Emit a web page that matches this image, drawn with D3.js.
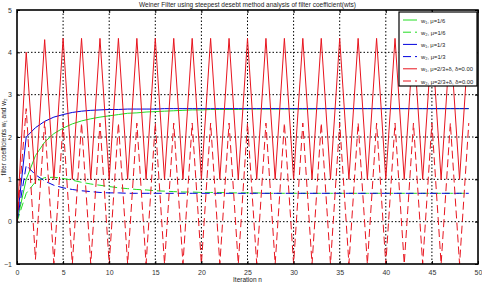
<!DOCTYPE html>
<html>
<head>
<meta charset="utf-8">
<script src="https://cdn.jsdelivr.net/npm/d3@7"></script>
<style>
    html, body { margin: 0; padding: 0; background: #fff; overflow: hidden; }
    svg { display: block; }
    svg text { font-family: "Liberation Sans", "DejaVu Sans", Arial, sans-serif; fill: #222; }
</style>
</head>
<body>
<div id="chart"></div>
<script>
// iteration index n
const iterations = d3.range(0, 50);

// mu = 1/6
const w1Mu16 = [
    0, 1.00, 1.56, 1.88, 2.08, 2.21, 2.31, 2.38, 2.43, 2.47,
    2.50, 2.53, 2.56, 2.57, 2.59, 2.60, 2.61, 2.62, 2.63, 2.64,
    2.64, 2.65, 2.65, 2.65, 2.65, 2.66, 2.66, 2.66, 2.66, 2.66,
    2.66, 2.66, 2.66, 2.67, 2.67, 2.67, 2.67, 2.67, 2.67, 2.67,
    2.67, 2.67, 2.67, 2.67, 2.67, 2.67, 2.67, 2.67, 2.67, 2.67
];
const w2Mu16 = [
    0, 0.67, 0.94, 1.04, 1.05, 1.02, 0.98, 0.93, 0.89, 0.86,
    0.83, 0.80, 0.78, 0.76, 0.75, 0.73, 0.72, 0.71, 0.70, 0.70,
    0.69, 0.69, 0.69, 0.68, 0.68, 0.68, 0.68, 0.67, 0.67, 0.67,
    0.67, 0.67, 0.67, 0.67, 0.67, 0.67, 0.67, 0.67, 0.67, 0.67,
    0.67, 0.67, 0.67, 0.67, 0.67, 0.67, 0.67, 0.67, 0.67, 0.67
];

// mu = 1/3
const w1Mu13 = [
    0, 2.00, 2.22, 2.37, 2.47, 2.53, 2.58, 2.61, 2.63, 2.64,
    2.65, 2.65, 2.66, 2.66, 2.66, 2.66, 2.67, 2.67, 2.67, 2.67,
    2.67, 2.67, 2.67, 2.67, 2.67, 2.67, 2.67, 2.67, 2.67, 2.67,
    2.67, 2.67, 2.67, 2.67, 2.67, 2.67, 2.67, 2.67, 2.67, 2.67,
    2.67, 2.67, 2.67, 2.67, 2.67, 2.67, 2.67, 2.67, 2.67, 2.67
];
const w2Mu13 = [
    0, 1.33, 1.11, 0.96, 0.86, 0.80, 0.76, 0.73, 0.71, 0.69,
    0.68, 0.68, 0.67, 0.67, 0.67, 0.67, 0.67, 0.67, 0.67, 0.67,
    0.67, 0.67, 0.67, 0.67, 0.67, 0.67, 0.67, 0.67, 0.67, 0.67,
    0.67, 0.67, 0.67, 0.67, 0.67, 0.67, 0.67, 0.67, 0.67, 0.67,
    0.67, 0.67, 0.67, 0.67, 0.67, 0.67, 0.67, 0.67, 0.67, 0.67
];

// mu = 2/3 + delta, delta = 0.00
const w1Mu23 = [
    0, 4.00, 0.89, 4.30, 0.99, 4.33, 1.00, 4.33, 1.00, 4.33,
    1.00, 4.33, 1.00, 4.33, 1.00, 4.33, 1.00, 4.33, 1.00, 4.33,
    1.00, 4.33, 1.00, 4.33, 1.00, 4.33, 1.00, 4.33, 1.00, 4.33,
    1.00, 4.33, 1.00, 4.33, 1.00, 4.33, 1.00, 4.33, 1.00, 4.33,
    1.00, 4.33, 1.00, 4.33, 1.00, 4.33, 1.00, 4.33, 1.00, 4.33
];
const w2Mu23 = [
    0, 2.67, -0.89, 2.37, -0.99, 2.34, -1.00, 2.33, -1.00, 2.33,
    -1.00, 2.33, -1.00, 2.33, -1.00, 2.33, -1.00, 2.33, -1.00, 2.33,
    -1.00, 2.33, -1.00, 2.33, -1.00, 2.33, -1.00, 2.33, -1.00, 2.33,
    -1.00, 2.33, -1.00, 2.33, -1.00, 2.33, -1.00, 2.33, -1.00, 2.33,
    -1.00, 2.33, -1.00, 2.33, -1.00, 2.33, -1.00, 2.33, -1.00, 2.33
];

const xTicks = [0, 5, 10, 15, 20, 25, 30, 35, 40, 45, 50];
const yTicks = [-1, 0, 1, 2, 3, 4, 5];

const seriesList = [
    { label: "w₁, μ=1/6", values: w1Mu16, color: "#22dd22", dashed: false },
    { label: "w₂, μ=1/6", values: w2Mu16, color: "#22dd22", dashed: true },
    { label: "w₁, μ=1/3", values: w1Mu13, color: "#0000dd", dashed: false },
    { label: "w₂, μ=1/3", values: w2Mu13, color: "#0000dd", dashed: true },
    { label: "w₁, μ=2/3+δ, δ=0.00", values: w1Mu23, color: "#e8141e", dashed: false },
    { label: "w₂, μ=2/3+δ, δ=0.00", values: w2Mu23, color: "#e8141e", dashed: true },
];

const config = {
    width: 482,
    height: 292,
    margin: { top: 10, right: 4, bottom: 28, left: 17 },
};

const innerWidth = config.width - config.margin.left - config.margin.right;
const innerHeight = config.height - config.margin.top - config.margin.bottom;

const svg = d3.select("#chart")
    .append("svg")
    .attr("width", config.width)
    .attr("height", config.height);

const chart = svg.append("g")
    .attr("transform", `translate(${config.margin.left},${config.margin.top})`);

const xScale = d3.scaleLinear().domain([0, 50]).range([0, innerWidth]);
const yScale = d3.scaleLinear().domain([-1, 5]).range([innerHeight, 0]);

svg.append("defs").append("clipPath").attr("id", "plot-clip")
    .append("rect").attr("width", innerWidth).attr("height", innerHeight);

// dotted grid
chart.append("g").attr("class", "grid")
    .selectAll("line")
    .data(xTicks.slice(1, -1))
    .join("line")
    .attr("x1", (d) => xScale(d)).attr("x2", (d) => xScale(d))
    .attr("y1", 0).attr("y2", innerHeight)
    .attr("stroke", "#000").attr("stroke-width", 1).attr("stroke-dasharray", "1.5,2");

chart.append("g").attr("class", "grid")
    .selectAll("line")
    .data(yTicks.slice(1, -1))
    .join("line")
    .attr("x1", 0).attr("x2", innerWidth)
    .attr("y1", (d) => yScale(d)).attr("y2", (d) => yScale(d))
    .attr("stroke", "#000").attr("stroke-width", 1).attr("stroke-dasharray", "1.5,2");

// lines
const line = d3.line()
    .x((d, i) => xScale(iterations[i]))
    .y((d) => yScale(d));

chart.append("g")
    .attr("clip-path", "url(#plot-clip)")
    .selectAll("path")
    .data(seriesList)
    .join("path")
    .attr("d", (s) => line(s.values))
    .attr("fill", "none")
    .attr("stroke", (s) => s.color)
    .attr("stroke-width", 1)
    .attr("stroke-dasharray", (s) => (s.dashed ? "8,4" : null));

// axes (ticks inward, mirrored on top/right)
chart.append("g")
    .attr("transform", `translate(0,${innerHeight})`)
    .call(d3.axisBottom(xScale).tickValues(xTicks).tickSize(-3).tickPadding(6).tickFormat(d3.format("d")));
chart.append("g")
    .call(d3.axisLeft(yScale).tickValues(yTicks).tickSize(-3).tickPadding(5).tickFormat(d3.format("d")));
chart.append("g")
    .call(d3.axisTop(xScale).tickValues(xTicks).tickSize(-3))
    .selectAll("text").remove();
chart.append("g")
    .attr("transform", `translate(${innerWidth},0)`)
    .call(d3.axisRight(yScale).tickValues(yTicks).tickSize(-3))
    .selectAll("text").remove();

chart.selectAll(".domain").remove();
chart.selectAll(".tick line").attr("stroke", "#000");
chart.selectAll(".tick text").attr("font-size", 7).style("fill", "#333");

chart.append("rect")
    .attr("width", innerWidth)
    .attr("height", innerHeight)
    .attr("fill", "none")
    .attr("stroke", "#000")
    .attr("stroke-width", 1.6);

// title and axis labels
svg.append("text")
    .attr("x", config.margin.left + innerWidth / 2)
    .attr("y", 7)
    .attr("text-anchor", "middle")
    .attr("font-size", 6.5)
    .text("Weiner Filter using steepest desebt method analysis of filter coefficient(wts)");

svg.append("text")
    .attr("x", config.margin.left + innerWidth / 2)
    .attr("y", config.height - 10)
    .attr("text-anchor", "middle")
    .attr("font-size", 6.5)
    .text("Iteration n");

svg.append("text")
    .attr("transform", `translate(6,${config.margin.top + innerHeight / 2}) rotate(-90)`)
    .attr("text-anchor", "middle")
    .attr("font-size", 6.5)
    .text("filter coefficients w₁ and w₂");

// legend
const legend = svg.append("g").attr("transform", "translate(399,12)");
legend.append("rect")
    .attr("width", 78)
    .attr("height", 74)
    .attr("fill", "#fff")
    .attr("stroke", "#000")
    .attr("stroke-width", 1.2);

const legendItems = legend.selectAll("g.item")
    .data(seriesList)
    .join("g")
    .attr("class", "item")
    .attr("transform", (d, i) => `translate(0,${8 + i * 12.2})`);

legendItems.append("line")
    .attr("x1", 4).attr("x2", 18)
    .attr("stroke", (s) => s.color)
    .attr("stroke-width", 1)
    .attr("stroke-dasharray", (s) => (s.dashed ? "8,4" : null));

legendItems.append("text")
    .attr("x", 22)
    .attr("y", 2.5)
    .attr("font-size", 5.8)
    .text((s) => s.label);
</script>
</body>
</html>
